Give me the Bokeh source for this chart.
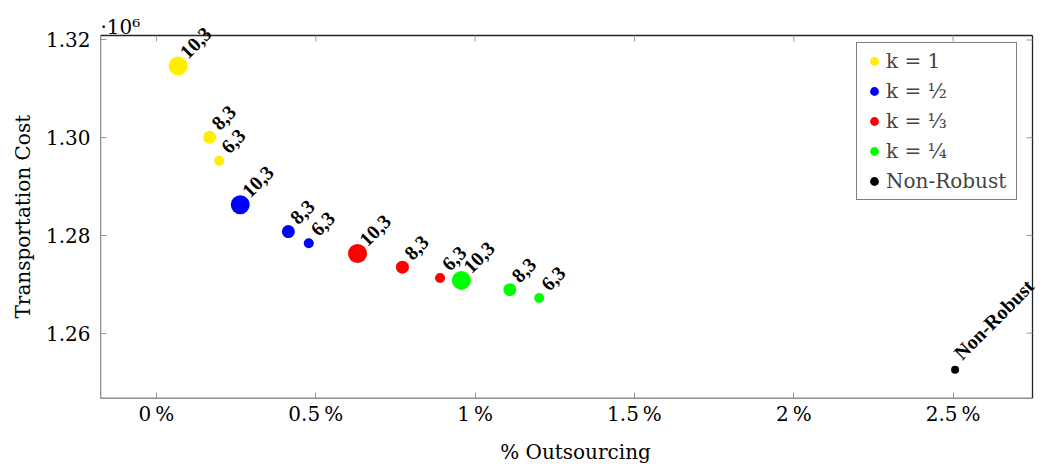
import math
from bokeh.plotting import figure
from bokeh.models import (ColumnDataSource, FixedTicker, CustomJSTickFormatter,
                          Legend, LegendItem, LabelSet, Label, Range1d, Title)
from bokeh.embed import file_html
from bokeh.resources import INLINE

# ---------------- data ----------------
series_names = ["k = 1", "k = ½", "k = ⅓", "k = ¼"]
point_labels = ["10,3", "8,3", "6,3"]

outsourcing_k1 = [0.068, 0.167, 0.197]
cost_k1 = [1314700, 1300100, 1295300]
outsourcing_k2 = [0.263, 0.414, 0.478]
cost_k2 = [1286300, 1280800, 1278400]
outsourcing_k3 = [0.631, 0.772, 0.890]
cost_k3 = [1276300, 1273500, 1271300]
outsourcing_k4 = [0.957, 1.109, 1.201]
cost_k4 = [1270800, 1268900, 1267200]

nonrobust_name = "Non-Robust"
outsourcing_nonrobust = [2.506]
cost_nonrobust = [1252500]

x_ticks = [0, 0.5, 1, 1.5, 2, 2.5]
y_ticks = [1260000, 1280000, 1300000, 1320000]

# ---------------- styles / layout ----------------
series_colors = ["#ffee00", "#0000ff", "#ff0000", "#00ff00"]
marker_sizes = [19, 13, 10]
SERIF = "DejaVu Serif"
TICK_GRAY = "#999999"

# visible axis box limits
x_lo, x_hi = -0.1755, 2.749
y_lo, y_hi = 1246630, 1320920
box_w_px, box_h_px = 932, 363
pad_top_px, pad_right_px = 26, 18   # room so point labels may cross the box (not clipped)
y_top = y_hi + (y_hi - y_lo) * pad_top_px / box_h_px
x_right = x_hi + (x_hi - x_lo) * pad_right_px / box_w_px

p = figure(width=1052, height=468, output_backend="svg", toolbar_location=None,
           x_range=Range1d(x_lo, x_right), y_range=Range1d(y_lo, y_top),
           min_border_left=100, min_border_right=20 - pad_right_px,
           min_border_top=35 - pad_top_px, min_border_bottom=70)
p.outline_line_color = None
p.xgrid.visible = False
p.ygrid.visible = False
p.background_fill_color = "white"
p.border_fill_color = "white"

# axis box
p.segment(x0=[x_lo, x_lo, x_lo, x_hi], y0=[y_lo, y_hi, y_lo, y_lo],
          x1=[x_hi, x_hi, x_lo, x_hi], y1=[y_lo, y_hi, y_hi, y_hi],
          line_color="#222222", line_width=1.3)
# mirrored inward ticks on top and right
p.ray(x=x_ticks, y=[y_hi] * len(x_ticks), length=6, length_units="screen",
      angle=-math.pi / 2, line_color=TICK_GRAY, line_width=1)
p.ray(x=[x_hi] * len(y_ticks), y=y_ticks, length=6, length_units="screen",
      angle=math.pi, line_color=TICK_GRAY, line_width=1)

xs = [outsourcing_k1, outsourcing_k2, outsourcing_k3, outsourcing_k4]
ys = [cost_k1, cost_k2, cost_k3, cost_k4]

label_kw = dict(x="x", y="y", text="label", angle=math.pi / 4, x_offset=10, y_offset=6,
                text_font=SERIF, text_font_style="bold", text_font_size="20px",
                text_color="black", text_align="left", text_baseline="bottom")

items = []
for name, color, xv, yv in zip(series_names, series_colors, xs, ys):
    src = ColumnDataSource(dict(x=xv, y=yv, size=marker_sizes, label=point_labels))
    r = p.scatter("x", "y", size="size", source=src, fill_color=color, line_color=None)
    p.add_layout(LabelSet(source=src, **label_kw))
    items.append(LegendItem(label=name, renderers=[r]))

src_nr = ColumnDataSource(dict(x=outsourcing_nonrobust, y=cost_nonrobust, label=[nonrobust_name]))
r_nr = p.scatter("x", "y", size=8, source=src_nr, fill_color="black", line_color=None)
p.add_layout(LabelSet(source=src_nr, **label_kw))
items.append(LegendItem(label=nonrobust_name, renderers=[r_nr]))

legend = Legend(items=items, location=(756, 198), orientation="vertical",
                glyph_width=22, glyph_height=24, label_height=24, spacing=6, padding=6,
                label_standoff=1, label_width=124,
                label_text_font=SERIF, label_text_font_size="20px",
                border_line_color="black", border_line_width=1,
                background_fill_color="white", background_fill_alpha=1.0)
p.add_layout(legend)

# axes
xfmt = CustomJSTickFormatter(code="return tick.toString() + '\u2009%';")
yfmt = CustomJSTickFormatter(code="return (tick/1e6).toFixed(2);")

for ax in [p.xaxis[0], p.yaxis[0]]:
    ax.axis_line_color = None
    ax.major_tick_in = 6
    ax.major_tick_out = 0
    ax.minor_tick_line_color = None
    ax.major_tick_line_color = TICK_GRAY
    ax.major_label_text_font = SERIF
    ax.major_label_text_font_size = "20px"
    ax.major_label_text_color = "black"
    ax.axis_label_text_font = SERIF
    ax.axis_label_text_font_size = "20px"
    ax.axis_label_text_font_style = "normal"
    ax.axis_label_text_color = "black"

p.xaxis[0].ticker = FixedTicker(ticks=x_ticks)
p.xaxis[0].formatter = xfmt
p.xaxis[0].axis_label = "% Outsourcing"
p.xaxis[0].major_label_standoff = 3
p.xaxis[0].axis_label_standoff = 11

p.yaxis[0].ticker = FixedTicker(ticks=y_ticks)
p.yaxis[0].formatter = yfmt
p.yaxis[0].major_label_standoff = 10

# y-axis title, centred on the visible box
p.add_layout(Title(text="Transportation Cost", align="left", offset=80, standoff=15,
                   text_font=SERIF, text_font_size="20px", text_font_style="normal",
                   text_color="black"), "left")

# multiplier above the box
p.add_layout(Label(x=x_lo, y=y_hi, text="·10⁶", y_offset=9, text_font=SERIF,
                   text_font_size="20px", text_baseline="alphabetic", text_align="left",
                   text_color="black"))

open("out.html", "w").write(file_html(p, INLINE))
